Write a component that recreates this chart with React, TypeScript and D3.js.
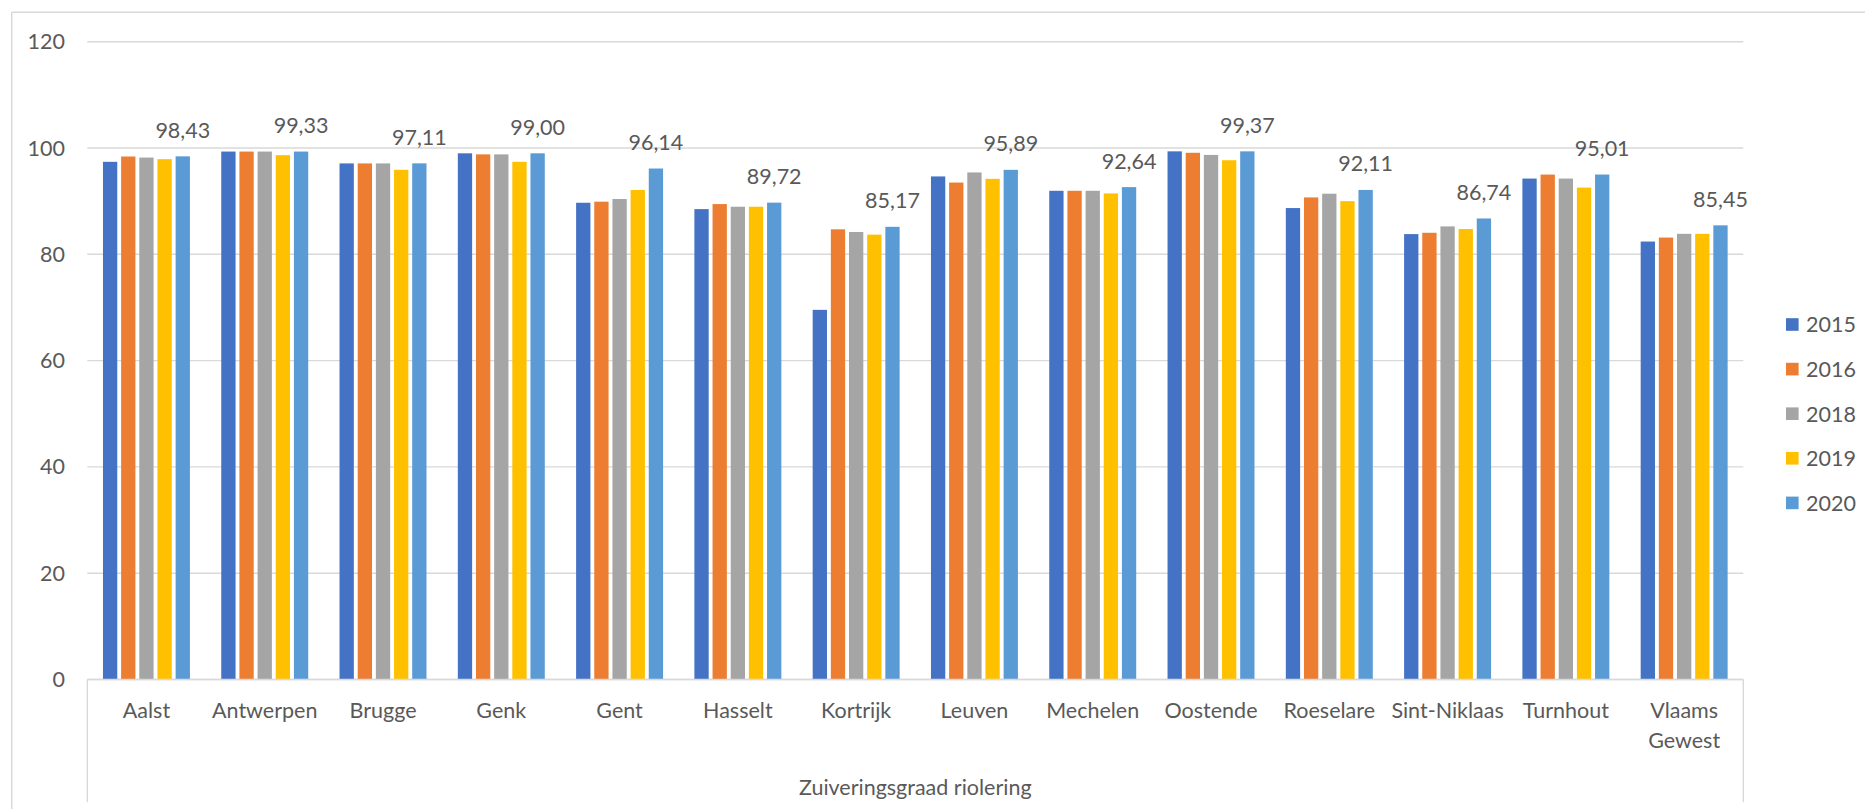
import React from "react";
import * as d3 from "d3";

const categories = [
  ["Aalst"], ["Antwerpen"], ["Brugge"], ["Genk"], ["Gent"], ["Hasselt"], ["Kortrijk"],
  ["Leuven"], ["Mechelen"], ["Oostende"], ["Roeselare"], ["Sint-Niklaas"], ["Turnhout"], ["Vlaams", "Gewest"],
];
const seriesNames = ["2015", "2016", "2018", "2019", "2020"];
const seriesColors = ["#4472C4", "#ED7D31", "#A5A5A5", "#FFC000", "#5B9BD5"];
const v2015 = [97.4, 99.33, 97.1, 99.0, 89.7, 88.5, 69.55, 94.65, 91.95, 99.37, 88.7, 83.8, 94.25, 82.4];
const v2016 = [98.4, 99.33, 97.1, 98.8, 89.9, 89.45, 84.7, 93.5, 91.95, 99.1, 90.7, 84.05, 95.0, 83.15];
const v2018 = [98.2, 99.33, 97.1, 98.8, 90.4, 88.95, 84.2, 95.4, 91.95, 98.7, 91.4, 85.25, 94.25, 83.85];
const v2019 = [97.9, 98.65, 95.9, 97.4, 92.1, 88.95, 83.7, 94.2, 91.45, 97.7, 90.0, 84.75, 92.55, 83.85];
const v2020 = [98.43, 99.33, 97.11, 99.0, 96.14, 89.72, 85.17, 95.89, 92.64, 99.37, 92.11, 86.74, 95.01, 85.45];
const seriesValues = [v2015, v2016, v2018, v2019, v2020];
const yTicks = [0, 20, 40, 60, 80, 100, 120];
const axisTitle = "Zuiveringsgraad riolering";

const W = 1865;
const H = 809;
const left = 87.3;
const right = 1743.3;
const top = 41.7;
const bottom = 679.5;
const FONT = "Lato, 'Open Sans', sans-serif";
const TEXT = "#595959";
const GRID = "#d9d9d9";
const FS = 21.5;

export default function App() {
  const catKeys = categories.map((c) => c.join(" "));
  const x0 = d3.scaleBand<string>().domain(catKeys).range([left, right]).padding(0);
  const bw0 = x0.bandwidth();
  const groupW = (bw0 * 6.08) / 8.27;
  const groupOff = (bw0 - groupW) / 2;
  const x1 = d3
    .scaleBand<string>()
    .domain(seriesNames)
    .range([0, groupW])
    .paddingInner(0.27 / 1.27)
    .paddingOuter(0);
  const y = d3.scaleLinear().domain([0, 120]).range([bottom, top]);
  const fmt = (v: number) => d3.format(".2f")(v).replace(".", ",");

  return (
    <svg
      width={W}
      height={H}
      style={{ position: "absolute", left: 0, top: 0, background: "#fff" }}
      fontFamily={FONT}
    >
      <rect x={0} y={0} width={W} height={H} fill="#fff" />
      {/* outer chart border */}
      <line x1={11.7} x2={11.7} y1={12.3} y2={H + 2} stroke={GRID} strokeWidth={1.5} />
      <line x1={11.7} x2={W + 2} y1={12.3} y2={12.3} stroke={GRID} strokeWidth={1.5} />

      {/* gridlines + y ticks */}
      {yTicks.map((t) => (
        <g key={t}>
          <line x1={left} x2={right} y1={y(t)} y2={y(t)} stroke={GRID} strokeWidth={1.4} />
          <text x={65} y={y(t) + 7.5} textAnchor="end" fontSize={FS} fill={TEXT}>
            {t}
          </text>
        </g>
      ))}

      {/* bars */}
      {catKeys.map((c, i) => (
        <g key={c} transform={`translate(${(x0(c) as number) + groupOff},0)`}>
          {seriesNames.map((s, j) => {
            const v = seriesValues[j][i];
            return (
              <rect
                key={s}
                x={x1(s)}
                y={y(v)}
                width={x1.bandwidth()}
                height={y(0) - y(v)}
                fill={seriesColors[j]}
              />
            );
          })}
          <text
            x={(x1("2020") as number) + x1.bandwidth() / 2}
            y={y(v2020[i]) - 18.5}
            textAnchor="middle"
            fontSize={FS}
            fill={TEXT}
          >
            {fmt(v2020[i])}
          </text>
        </g>
      ))}

      {/* category axis box */}
      <line x1={left} x2={right} y1={bottom} y2={bottom} stroke={GRID} strokeWidth={1.4} />
      <line x1={left} x2={left} y1={bottom} y2={802} stroke={GRID} strokeWidth={1.4} />
      <line x1={right} x2={right} y1={bottom} y2={802} stroke={GRID} strokeWidth={1.4} />

      {categories.map((c, i) => (
        <text
          key={i}
          x={(x0(catKeys[i]) as number) + bw0 / 2}
          y={718}
          textAnchor="middle"
          fontSize={FS}
          fill={TEXT}
        >
          {c.map((line, k) => (
            <tspan key={k} x={(x0(catKeys[i]) as number) + bw0 / 2} dy={k === 0 ? 0 : 29.5}>
              {line}
            </tspan>
          ))}
        </text>
      ))}
      <text x={(left + right) / 2} y={795} textAnchor="middle" fontSize={FS} fill={TEXT}>
        {axisTitle}
      </text>

      {/* legend */}
      {seriesNames.map((s, j) => {
        const cy = 324.5 + j * 44.6;
        return (
          <g key={s}>
            <rect x={1786} y={cy - 6.3} width={12.6} height={12.6} fill={seriesColors[j]} />
            <text x={1806} y={cy + 7.8} fontSize={FS} fill={TEXT}>
              {s}
            </text>
          </g>
        );
      })}
    </svg>
  );
}
